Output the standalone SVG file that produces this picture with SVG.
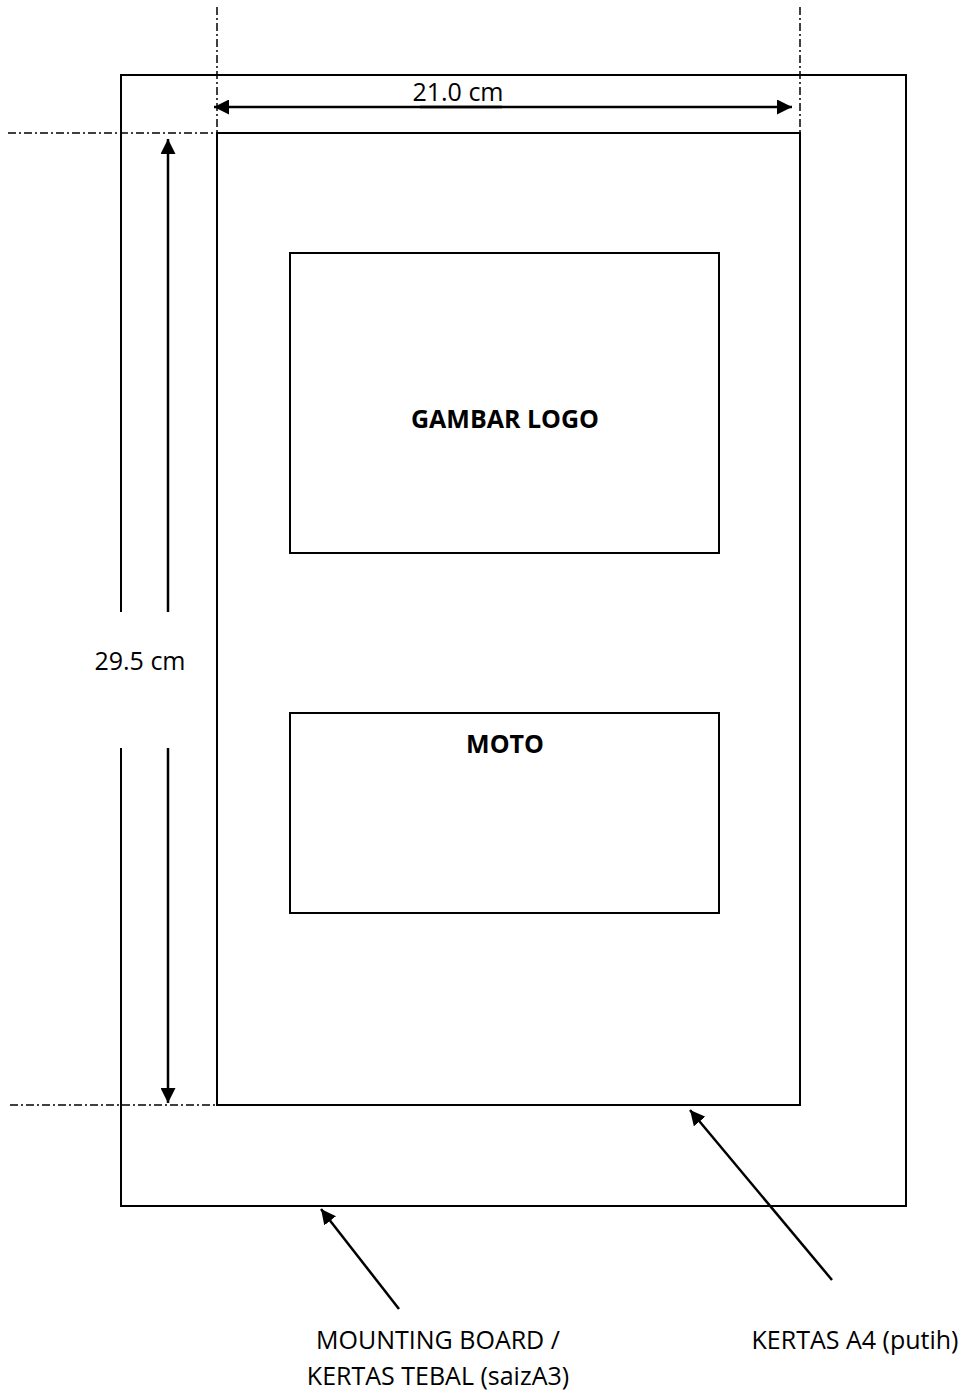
<svg xmlns="http://www.w3.org/2000/svg" width="967" height="1397" viewBox="0 0 967 1397">
<style>
.ln{stroke:#000;stroke-width:2;fill:none}
.dd{stroke:#000;stroke-width:1.5;fill:none;stroke-dasharray:8 3 2 3}
.ar{stroke:#000;stroke-width:2.5;fill:none}
.t{font-family:"Open Sans","Liberation Sans",sans-serif;font-size:25px;fill:#000;text-anchor:middle}
.b{font-weight:bold}
</style>
<defs>
<marker id="ah" viewBox="0 0 10 10" refX="10" refY="5" markerWidth="6" markerHeight="6" markerUnits="strokeWidth" orient="auto">
<path d="M0,0 L10,5 L0,10 z" fill="#000"/>
</marker>
</defs>
<rect width="967" height="1397" fill="#fff"/>
<g id="mounting-board">
<path class="ln" d="M121,612 V75 H906 V1206 H121 V748"/>
</g>
<g id="kertas-a4">
<rect class="ln" x="217" y="133" width="583" height="972"/>
</g>
<g id="gambar-logo">
<rect class="ln" x="290" y="253" width="429" height="300"/>
<text class="t b" x="505" y="428">GAMBAR LOGO</text>
</g>
<g id="moto">
<rect class="ln" x="290" y="713" width="429" height="200"/>
<text class="t b" x="505" y="753">MOTO</text>
</g>
<g id="connectors">
<line class="dd" x1="217" y1="7" x2="217" y2="133"/>
<line class="dd" x1="800" y1="7" x2="800" y2="133"/>
<line class="dd" x1="8" y1="133" x2="217" y2="133"/>
<line class="dd" x1="10" y1="1105" x2="217" y2="1105"/>
<line class="ar" x1="502" y1="107" x2="214" y2="107" marker-end="url(#ah)"/>
<line class="ar" x1="420" y1="107" x2="792" y2="107" marker-end="url(#ah)"/>
<line class="ar" x1="168" y1="612" x2="168" y2="139" marker-end="url(#ah)"/>
<line class="ar" x1="168" y1="748" x2="168" y2="1103" marker-end="url(#ah)"/>
<line class="ar" x1="399" y1="1309" x2="321" y2="1209" marker-end="url(#ah)"/>
<line class="ar" x1="832" y1="1280" x2="690" y2="1110" marker-end="url(#ah)"/>
</g>
<g id="labels">
<rect x="378" y="78" width="172" height="26" fill="#fff"/>
<text class="t" x="458" y="101">21.0 cm</text>
<text class="t" x="140" y="670">29.5 cm</text>
<text class="t" x="855" y="1349">KERTAS A4 (putih)</text>
<text class="t" x="438" y="1349">MOUNTING BOARD /</text>
<text class="t" x="438" y="1385">KERTAS TEBAL (saizA3)</text>
</g>
</svg>
